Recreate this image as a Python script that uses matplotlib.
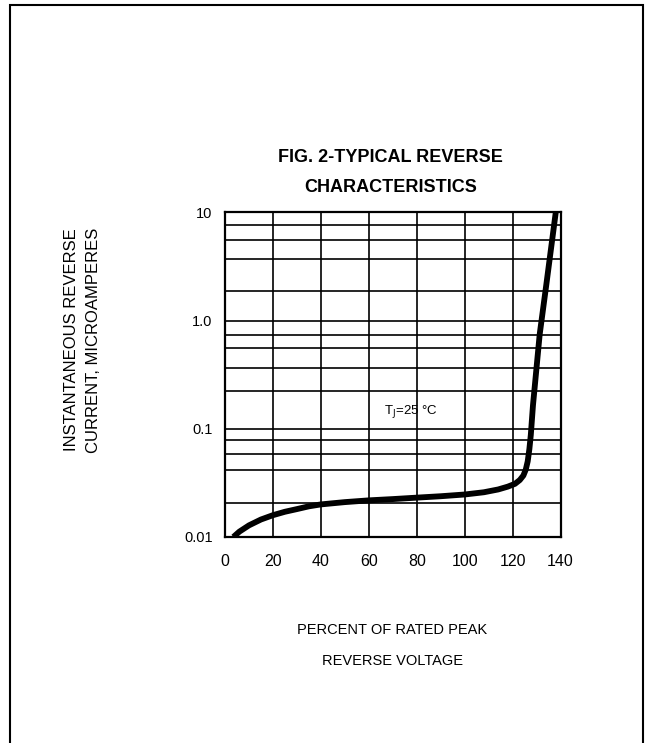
import matplotlib
matplotlib.use("Agg")
import matplotlib.pyplot as plt
import matplotlib.patches as patches
from matplotlib.ticker import FixedLocator, NullFormatter

plt.rcParams['font.family'] = ['Liberation Sans', 'DejaVu Sans']

# Curve (percent of rated PRV, reverse current in uA)
pct_voltage = [3.5, 6.0, 10.0, 15.0, 20.0, 25.0, 30.0, 35.0, 40.0, 50.0,
               60.0, 70.0, 80.0, 90.0, 100.0, 108.0, 114.0, 118.0, 121.0,
               123.0, 124.5, 125.5, 126.3, 127.0, 127.6, 128.5, 131.3,
               134.1, 138.0]
rev_current = [0.0100, 0.0112, 0.0128, 0.0145, 0.0159, 0.0171, 0.0181,
               0.0192, 0.0200, 0.0210, 0.0218, 0.0224, 0.0231, 0.0238,
               0.0247, 0.0259, 0.0275, 0.0292, 0.0310, 0.0336, 0.0370,
               0.0420, 0.0500, 0.0650, 0.0880, 0.165, 0.746, 2.18, 10.0]

x_ticks = [0, 20, 40, 60, 80, 100, 120, 140]
y_ticks = [0.01, 0.1, 1.0, 10]
y_tick_labels = ['0.01', '0.1', '1.0', '10']
# the scanned grid lines between decades
y_minor_grid = [0.0206, 0.042, 0.0586, 0.079,
                0.224, 0.367, 0.555, 0.735,
                1.88, 3.72, 5.6, 7.6]

fig = plt.figure(figsize=(6.46, 7.43), dpi=100)
ax = fig.add_axes([0.3483, 0.2773, 0.5194, 0.4367])

ax.plot(pct_voltage, rev_current, color='black', lw=4.2,
        solid_joinstyle='round', solid_capstyle='butt')

ax.set_yscale('log')
ax.set_xlim(0, 140)
ax.set_ylim(0.01, 10)

ax.set_xticks(x_ticks)
ax.set_xticklabels([str(v) for v in x_ticks])
ax.yaxis.set_major_locator(FixedLocator(y_ticks))
ax.set_yticklabels(y_tick_labels)
ax.yaxis.set_minor_locator(FixedLocator(y_minor_grid))
ax.yaxis.set_minor_formatter(NullFormatter())

ax.grid(True, which='both', color='black', lw=1.2)
ax.tick_params(which='both', length=0)
ax.tick_params(axis='x', pad=12, labelsize=11.5)
ax.tick_params(axis='y', pad=9, labelsize=10.5)
for s in ax.spines.values():
    s.set_linewidth(1.6)

ax.text(77.6, 0.146, r'T$_{\mathrm{J}}$=25 °C', fontsize=9.5,
        ha='center', va='center')

# titles and axis labels
fig.text(0.605, 1 - 157 / 743, 'FIG. 2-TYPICAL REVERSE', fontsize=13,
         fontweight='bold', ha='center', va='center')
fig.text(0.605, 1 - 187 / 743, 'CHARACTERISTICS', fontsize=13,
         fontweight='bold', ha='center', va='center')
fig.text(72 / 646, 1 - 340 / 743, 'INSTANTANEOUS REVERSE', fontsize=12,
         rotation=90, ha='center', va='center')
fig.text(93 / 646, 1 - 340 / 743, 'CURRENT, MICROAMPERES', fontsize=12,
         rotation=90, ha='center', va='center')
fig.text(392 / 646, 1 - 630 / 743, 'PERCENT OF RATED PEAK', fontsize=10.5,
         ha='center', va='center')
fig.text(392 / 646, 1 - 661 / 743, 'REVERSE VOLTAGE', fontsize=10.5,
         ha='center', va='center')

# outer frame of the datasheet figure
frame = patches.Rectangle((10 / 646, -0.05), 633 / 646, 1.05 - 5 / 743,
                          transform=fig.transFigure, fill=False,
                          edgecolor='black', lw=1.5)
fig.add_artist(frame)

plt.savefig('out.png', dpi=100)
plt.close(fig)
